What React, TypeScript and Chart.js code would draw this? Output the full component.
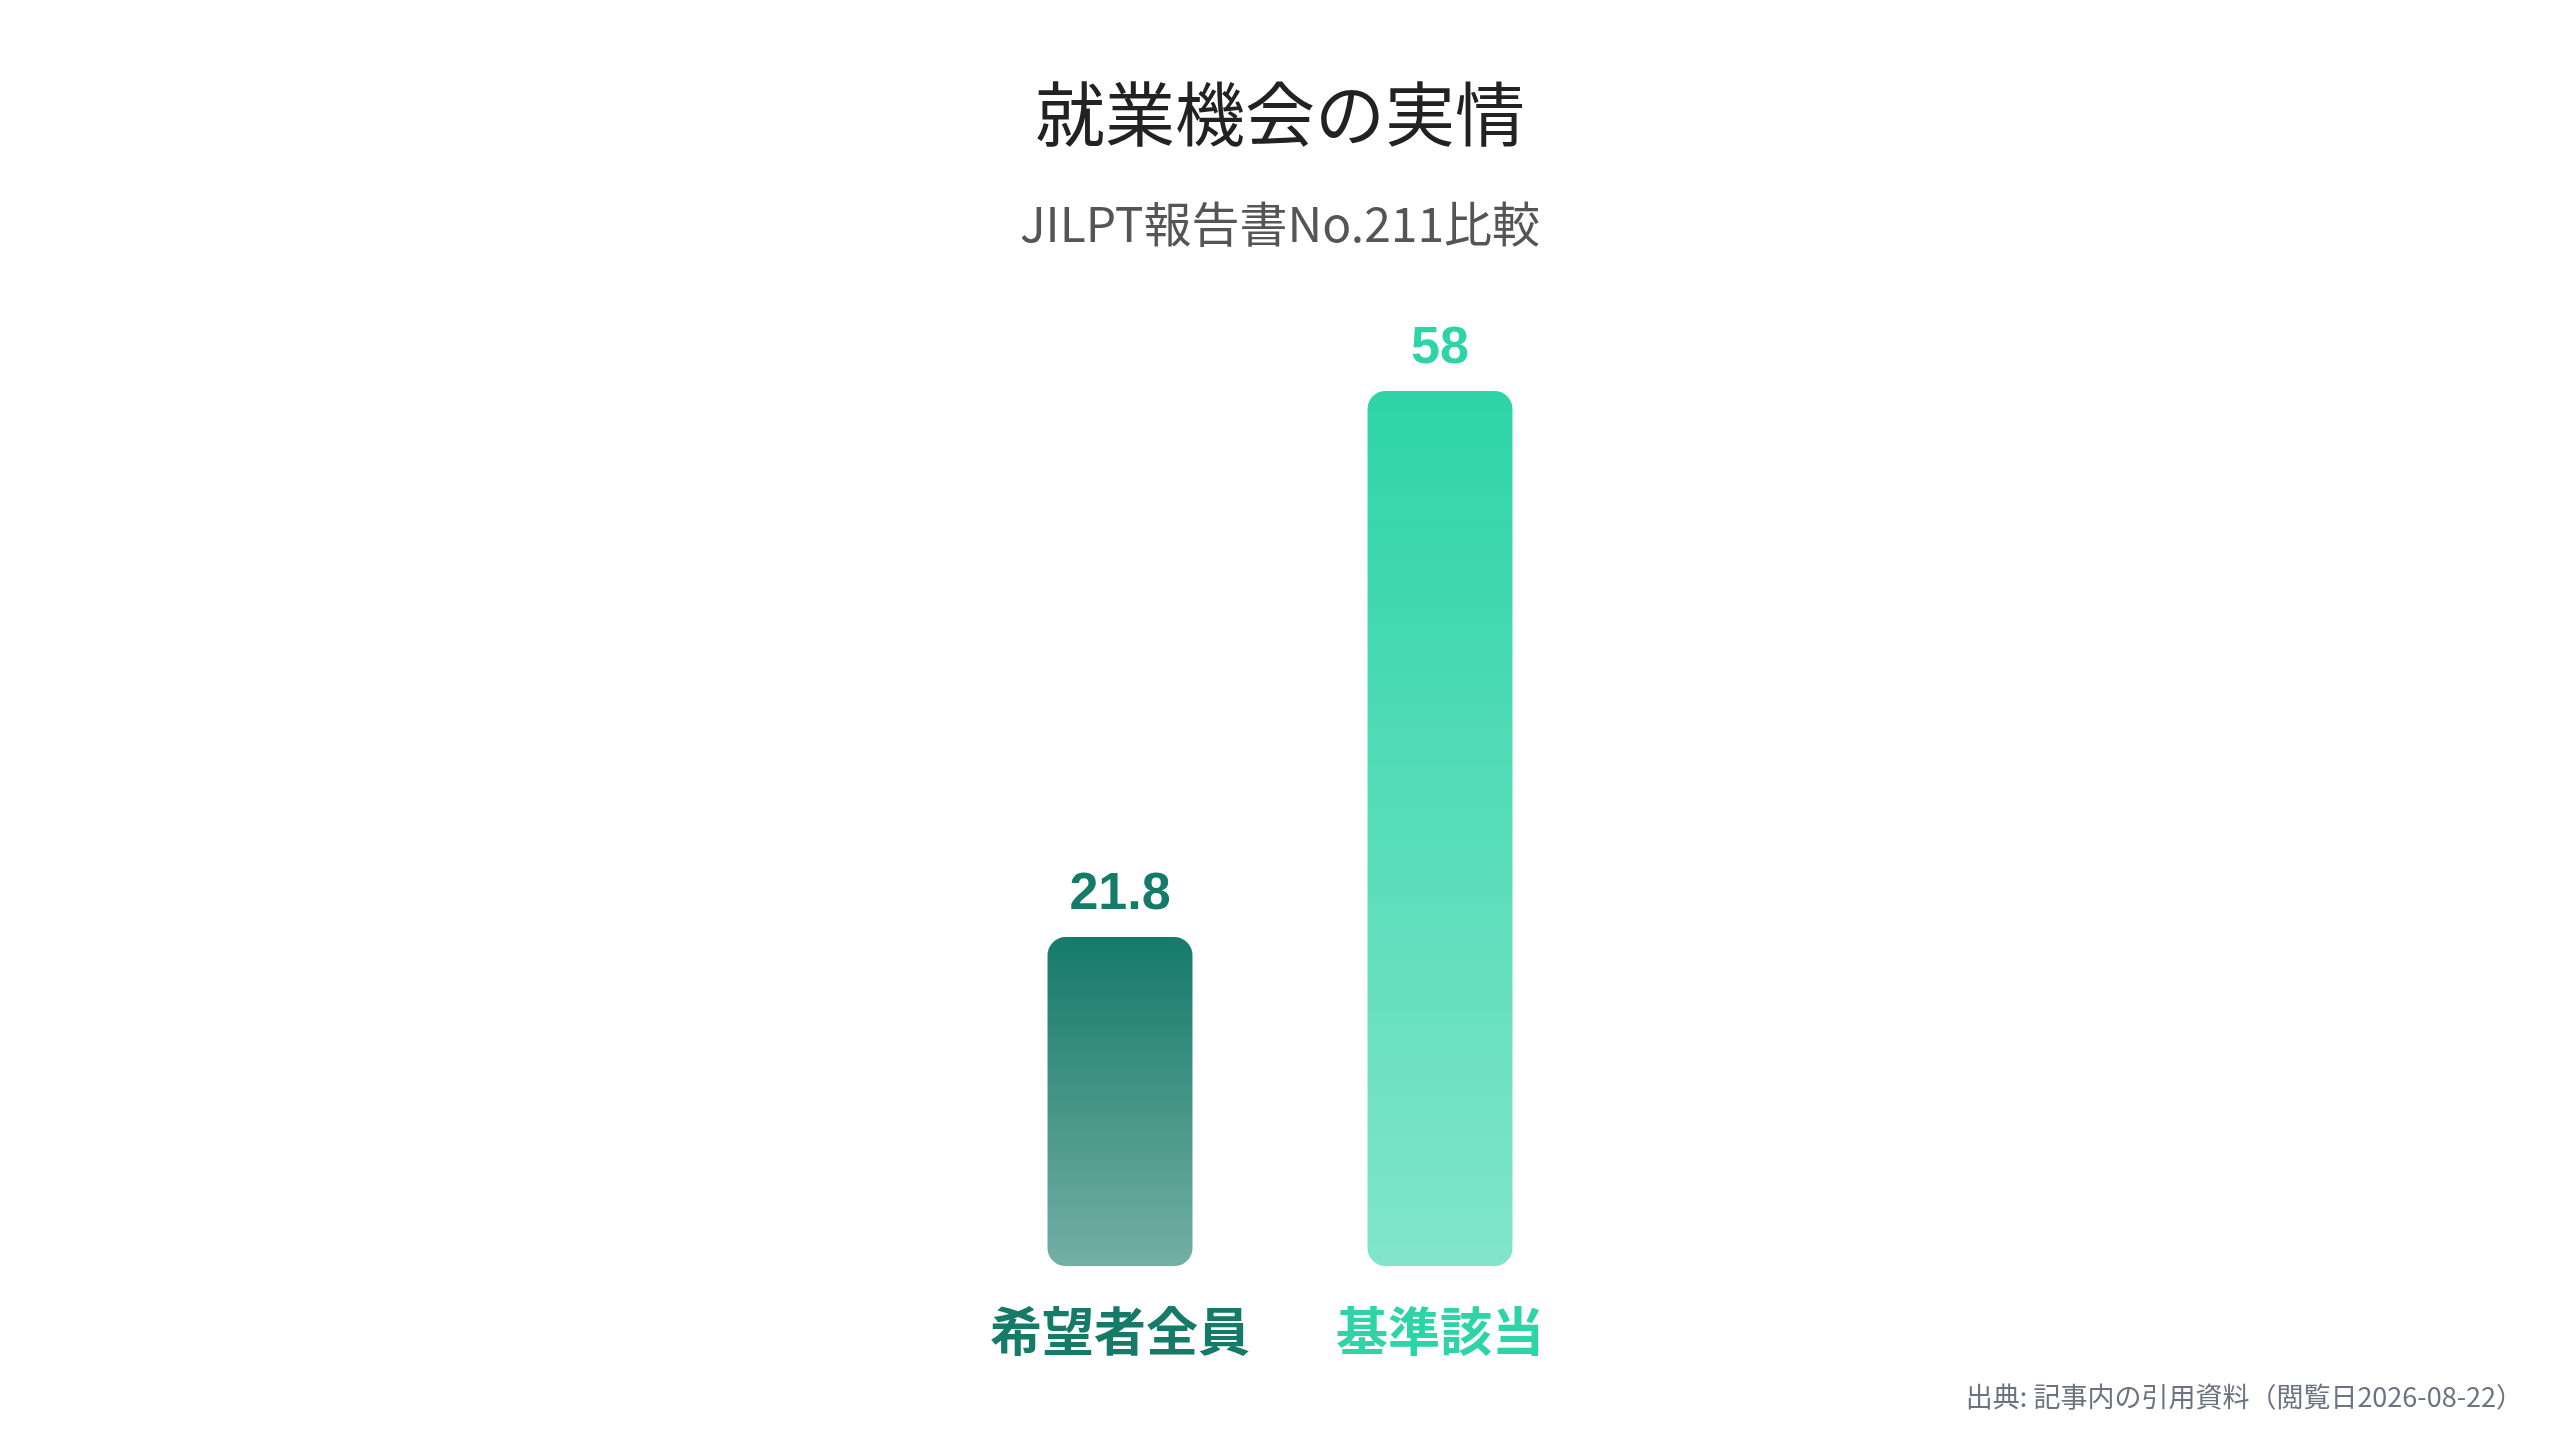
import React, { useRef, useEffect } from 'react';
import Chart from 'chart.js/auto';

const FONT = '"Noto Sans CJK JP", "Noto Sans", sans-serif';
const NUM_FONT = '"Liberation Sans", "Noto Sans CJK JP", sans-serif';

const categories = ['希望者全員', '基準該当'];
const values = [21.8, 58];
const barColors = ['#157a68', '#2dd4a7'];
const bottomAlpha = 0.6;

const titleText = '就業機会の実情';
const subtitleText = 'JILPT報告書No.211比較';
const sourceText = '出典: 記事内の引用資料（閲覧日2026-08-22）';

// hex -> rgba with alpha
const fade = (hex: string, a: number) => {
  const n = parseInt(hex.slice(1), 16);
  return `rgba(${(n >> 16) & 255}, ${(n >> 8) & 255}, ${n & 255}, ${a})`;
};

// value labels above each bar
const valueLabels = {
  id: 'valueLabels',
  afterDatasetsDraw(chart: Chart) {
    const { ctx } = chart;
    const meta = chart.getDatasetMeta(0);
    ctx.save();
    ctx.font = `bold 52px ${NUM_FONT}`;
    ctx.textAlign = 'center';
    ctx.textBaseline = 'alphabetic';
    meta.data.forEach((bar: any, i: number) => {
      ctx.fillStyle = barColors[i];
      ctx.fillText(String(values[i]), bar.x, bar.y - 28);
    });
    ctx.restore();
  },
};

const App: React.FC = () => {
  const canvasRef = useRef<HTMLCanvasElement>(null);
  const chartRef = useRef<Chart | null>(null);

  useEffect(() => {
    if (!canvasRef.current) return;
    if (chartRef.current) chartRef.current.destroy();

    chartRef.current = new Chart(canvasRef.current, {
      type: 'bar',
      data: {
        labels: categories,
        datasets: [
          {
            data: values,
            backgroundColor: (c: any) => {
              const i = c.dataIndex ?? 0;
              const y = c.chart.scales?.y;
              if (!y) return barColors[i];
              const top = y.getPixelForValue(values[i]);
              const bottom = y.getPixelForValue(0);
              if (!Number.isFinite(top) || !Number.isFinite(bottom) || top === bottom) return barColors[i];
              const g = c.chart.ctx.createLinearGradient(0, top, 0, bottom);
              g.addColorStop(0, barColors[i]);
              g.addColorStop(1, fade(barColors[i], bottomAlpha));
              return g;
            },
            borderRadius: 18,
            borderSkipped: false,
            barPercentage: 0.453,
            categoryPercentage: 1,
          },
        ],
      },
      options: {
        responsive: true,
        maintainAspectRatio: false,
        animation: false,
        layout: {
          padding: { top: 0, bottom: 43.6, left: 960, right: 960 },
        },
        scales: {
          x: {
            grid: { display: false, drawTicks: false },
            border: { display: false },
            ticks: {
              padding: 34,
              font: { family: FONT, size: 52, weight: 'bold' },
              color: (c: any) => barColors[c.index] ?? '#333',
            },
          },
          y: {
            display: false,
            min: 0,
            max: Math.max(...values),
          },
        },
        plugins: {
          legend: { display: false },
          tooltip: { enabled: false },
          title: {
            display: true,
            text: titleText,
            color: '#222222',
            font: { family: FONT, size: 70, weight: 'normal' },
            padding: { top: 72, bottom: 0 },
          },
          subtitle: {
            display: true,
            text: subtitleText,
            color: '#555555',
            font: { family: FONT, size: 48, weight: 'normal' },
            padding: { top: 39, bottom: 138.4 },
          },
        },
      },
      plugins: [valueLabels],
    });

    return () => {
      if (chartRef.current) {
        chartRef.current.destroy();
        chartRef.current = null;
      }
    };
  }, []);

  return (
    <div style={{ position: 'fixed', inset: 0, background: '#ffffff' }}>
      <canvas ref={canvasRef} />
      <div
        style={{
          position: 'absolute',
          right: 37,
          bottom: 31,
          fontFamily: FONT,
          fontSize: 27,
          lineHeight: '27px',
          color: '#6b7280',
        }}
      >
        {sourceText}
      </div>
    </div>
  );
};

export default App;
